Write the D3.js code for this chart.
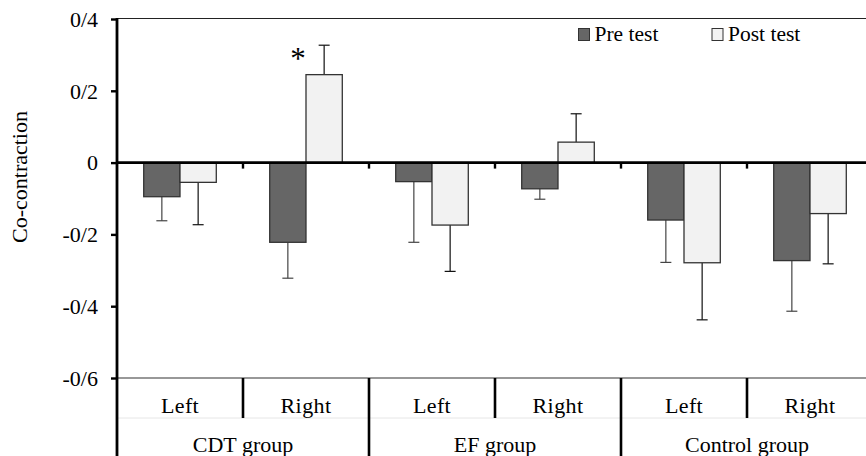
<!DOCTYPE html>
<html lang="en">
<head>
    <meta charset="utf-8">
    <title>Co-contraction</title>
    <script src="https://d3js.org/d3.v7.min.js"></script>
    <style>
        html, body {
            margin: 0;
            padding: 0;
            background: white;
        }
        text {
            font-family: "Liberation Serif", "Times New Roman", serif;
            fill: black;
        }
        .axis path, .axis line {
            stroke: black;
        }
    </style>
</head>
<body>
<script>
    // data
    var groups = ["CDT group", "EF group", "Control group"];
    var sides = ["Left", "Right", "Left", "Right", "Left", "Right"];
    var preValues = [-0.095, -0.222, -0.053, -0.073, -0.160, -0.273];
    var preErr = [0.067, 0.100, 0.169, 0.029, 0.118, 0.141];
    var postValues = [-0.055, 0.245, -0.174, 0.057, -0.279, -0.142];
    var postErr = [0.118, 0.082, 0.129, 0.079, 0.159, 0.140];
    var tickValues = [0.4, 0.2, 0, -0.2, -0.4, -0.6];
    var tickLabels = ["0/4", "0/2", "0", "-0/2", "-0/4", "-0/6"];
    var seriesNames = ["Pre test", "Post test"];
    var sigMarks = [null, "*", null, null, null, null]; // on post bars

    var w = 866, h = 456;
    var padL = 117, padR = 873, padT = 19, padB = 378;
    var preColor = "#666666", postColor = "#f2f2f2";
    var fs = "22px";
    var serif = '"Liberation Serif", "Times New Roman", serif';

    var svg = d3.select("body").append("svg")
        .attr("width", w)
        .attr("height", h);

    var yScale = d3.scaleLinear().domain([-0.6, 0.4]).range([padB, padT]);
    var xScale = d3.scaleBand().domain(d3.range(sides.length)).range([padL, padR]);
    var cw = xScale.bandwidth();
    var xSub = d3.scaleBand().domain(["pre", "post"]).range([cw * 0.212, cw * 0.788]);
    var bw = xSub.bandwidth();

    // top and bottom frame lines
    svg.append("line").attr("x1", padL).attr("x2", padR)
        .attr("y1", yScale(0.4) - 0.5).attr("y2", yScale(0.4) - 0.5)
        .attr("stroke", "#222").attr("stroke-width", 1.2);
    svg.append("line").attr("x1", padL).attr("x2", padR)
        .attr("y1", padB).attr("y2", padB)
        .attr("stroke", "#333").attr("stroke-width", 1.2);
    svg.append("line").attr("x1", padL).attr("x2", padR)
        .attr("y1", 418).attr("y2", 418)
        .attr("stroke", "#e6e6e6").attr("stroke-width", 1);

    // bars
    var rows = sides.map(function(s, i) {
        return [
            {i: i, key: "pre", v: preValues[i], e: preErr[i], fill: preColor, stroke: "#333"},
            {i: i, key: "post", v: postValues[i], e: postErr[i], fill: postColor, stroke: "#333"}
        ];
    });
    var flat = [].concat.apply([], rows);

    // error bars (one-sided, away from zero)
    var errG = svg.append("g");
    flat.forEach(function(d) {
        var cx = xScale(d.i) + xSub(d.key) + bw / 2;
        var tip = d.v >= 0 ? d.v + d.e : d.v - d.e;
        errG.append("line").attr("x1", cx).attr("x2", cx)
            .attr("y1", yScale(d.v)).attr("y2", yScale(tip))
            .attr("stroke", d.key == "pre" ? "#444" : "#111").attr("stroke-width", 1.2);
        errG.append("line").attr("x1", cx - 5.5).attr("x2", cx + 5.5)
            .attr("y1", yScale(tip)).attr("y2", yScale(tip))
            .attr("stroke", d.key == "pre" ? "#444" : "#111").attr("stroke-width", 1.2);
    });

    svg.append("g").selectAll("rect")
        .data(flat)
        .enter().append("rect")
        .attr("x", function(d) { return xScale(d.i) + xSub(d.key); })
        .attr("width", bw)
        .attr("y", function(d) { return yScale(Math.max(0, d.v)); })
        .attr("height", function(d) { return Math.abs(yScale(d.v) - yScale(0)); })
        .attr("fill", function(d) { return d.fill; })
        .attr("stroke", function(d) { return d.stroke; })
        .attr("stroke-width", 1.3);

    // significance
    sigMarks.forEach(function(m, i) {
        if (!m) return;
        svg.append("text")
            .attr("x", xScale(i) + xSub("post") - 8)
            .attr("y", yScale(postValues[i] + postErr[i]) + 24)
            .attr("text-anchor", "middle")
            .style("font-size", "31px")
            .text(m);
    });

    // zero line with small ticks at category boundaries
    svg.append("line").attr("x1", padL).attr("x2", padR)
        .attr("y1", yScale(0)).attr("y2", yScale(0))
        .attr("stroke", "black").attr("stroke-width", 2.6);
    d3.range(1, sides.length).forEach(function(i) {
        svg.append("line").attr("x1", xScale(i)).attr("x2", xScale(i))
            .attr("y1", yScale(0)).attr("y2", yScale(0) + 6)
            .attr("stroke", "black").attr("stroke-width", 2.4);
    });

    // y axis
    var yAxis = d3.axisLeft(yScale)
        .tickValues(tickValues)
        .tickSize(6)
        .tickPadding(13)
        .tickFormat(function(d, i) { return tickLabels[i]; });
    var ya = svg.append("g").attr("class", "axis")
        .attr("transform", "translate(" + padL + ",0)")
        .attr("font-family", serif)
        .call(yAxis);
    ya.select(".domain").remove();
    ya.selectAll(".tick line").attr("stroke-width", 2.4);
    ya.selectAll("text").style("font-size", fs).style("font-family", serif).attr("dy", "0.33em");
    svg.append("line").attr("x1", padL).attr("x2", padL)
        .attr("y1", padT - 1).attr("y2", h)
        .attr("stroke", "black").attr("stroke-width", 2.8);

    svg.append("text")
        .attr("transform", "translate(27," + 177 + ") rotate(-90)")
        .attr("text-anchor", "middle")
        .style("font-size", fs)
        .text("Co-contraction");

    // category labels and separators
    sides.forEach(function(s, i) {
        svg.append("text")
            .attr("x", xScale(i) + cw / 2)
            .attr("y", 413)
            .attr("text-anchor", "middle")
            .style("font-size", fs)
            .style("letter-spacing", "0.4px")
            .text(s);
        if (i > 0) {
            svg.append("line").attr("x1", xScale(i)).attr("x2", xScale(i))
                .attr("y1", padB).attr("y2", i % 2 == 0 ? h : 418)
                .attr("stroke", "black").attr("stroke-width", 2.6);
        }
    });
    groups.forEach(function(g, k) {
        svg.append("text")
            .attr("x", xScale(k * 2) + cw)
            .attr("y", 452)
            .attr("text-anchor", "middle")
            .style("font-size", fs)
            .text(g);
    });

    // legend
    var legX = [578.5, 712];
    seriesNames.forEach(function(n, k) {
        svg.append("rect")
            .attr("x", legX[k]).attr("y", 28.5)
            .attr("width", 11).attr("height", 12)
            .attr("fill", k == 0 ? preColor : postColor)
            .attr("stroke", "#333").attr("stroke-width", 1);
        svg.append("text")
            .attr("x", legX[k] + 16).attr("y", 41)
            .style("font-size", "21.5px")
            .text(n);
    });
</script>
</body>
</html>
